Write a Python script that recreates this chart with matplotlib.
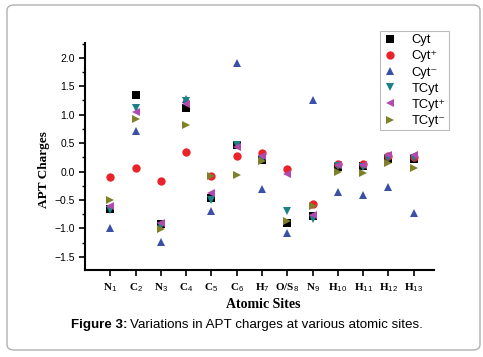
import matplotlib
matplotlib.use("Agg")
import matplotlib.pyplot as plt
from matplotlib.patches import FancyBboxPatch
from matplotlib.ticker import MultipleLocator

plt.rcParams['mathtext.fontset'] = 'custom'
plt.rcParams['mathtext.rm'] = 'Liberation Sans'
plt.rcParams['mathtext.it'] = 'Liberation Sans'
plt.rcParams['mathtext.bf'] = 'Liberation Serif:bold'

# atomic sites along the x axis
sites = ["N$_1$", "C$_2$", "N$_3$", "C$_4$", "C$_5$", "C$_6$", "H$_7$", "O/S$_8$",
         "N$_9$", "H$_{10}$", "H$_{11}$", "H$_{12}$", "H$_{13}$"]
pos = list(range(1, 14))

# APT charges
cyt = [-0.65, 1.34, -0.92, 1.12, -0.46, 0.46, 0.20, -0.90, -0.78, 0.08, 0.09, 0.22, 0.22]
cyt_p = [-0.09, 0.06, -0.16, 0.35, -0.08, 0.28, 0.32, 0.05, -0.57, 0.14, 0.14, 0.28, 0.25]
cyt_m = [-1.00, 0.72, -1.23, 1.28, -0.70, 1.90, -0.30, -1.08, 1.25, -0.36, -0.42, -0.27, -0.72]
tcyt = [-0.67, 1.11, -0.96, 1.24, -0.50, 0.46, 0.22, -0.70, -0.84, 0.09, 0.08, 0.23, 0.24]
tcyt_p = [-0.60, 1.05, -0.90, 1.19, -0.38, 0.43, 0.28, -0.04, -0.77, 0.12, 0.12, 0.29, 0.29]
tcyt_m = [-0.50, 0.93, -1.01, 0.81, -0.08, -0.06, 0.19, -0.87, -0.60, -0.01, -0.03, 0.15, 0.06]

series = [
    (cyt, "Cyt", "s", "black"),
    (cyt_p, "Cyt\u207a", "o", "#e8232a"),
    (cyt_m, "Cyt\u207b", "^", "#3a50a6"),
    (tcyt, "TCyt", "v", "#1c8087"),
    (tcyt_p, "TCyt\u207a", "<", "#b04aae"),
    (tcyt_m, "TCyt\u207b", ">", "#80802a"),
]

fig = plt.figure(figsize=(4.83, 3.57), dpi=100)
ax = fig.add_axes([85 / 483, 1 - 270 / 357, (434 - 85) / 483, (270 - 43) / 357])

for vals, name, mk, col in series:
    ax.plot(pos, vals, linestyle="none", marker=mk, color=col, markersize=6,
            markeredgewidth=0, label=name)

ax.set_xlim(0, 13.8)
ax.set_ylim(-1.73, 2.26)
ax.set_xticks(pos)
ax.set_xticklabels(sites, fontsize=8, family="Liberation Serif", fontweight="bold")
ax.yaxis.set_major_locator(MultipleLocator(0.5))
ax.yaxis.set_minor_locator(MultipleLocator(0.25))
ax.tick_params(axis="y", labelsize=7.5, direction="out", length=4, width=1.2)
ax.tick_params(axis="y", which="minor", length=2.5, width=1.0)
ax.tick_params(axis="x", direction="out", length=4, width=1.2, pad=4)
for lbl in ax.get_yticklabels():
    lbl.set_family("Liberation Sans")
ax.spines["top"].set_visible(False)
ax.spines["right"].set_visible(False)
ax.spines["left"].set_linewidth(1.5)
ax.spines["bottom"].set_linewidth(1.5)

fig.text(44 / 483, 1 - 170 / 357, "APT Charges", rotation=90, ha="center", va="center",
         fontsize=9.5, fontweight="bold", family="Liberation Serif")
fig.text(263 / 483, 1 - 304 / 357, "Atomic Sites", ha="center", va="center",
         fontsize=10, fontweight="bold", family="Liberation Serif")

# caption: bold lead-in followed by plain text
cap_size = 9.6
t1 = fig.text(71 / 483, 1 - 325 / 357, "Figure 3:", ha="left", va="center",
              fontsize=cap_size, fontweight="bold", family="Liberation Sans")
r = fig.canvas.get_renderer()
bb = t1.get_window_extent(renderer=r)
fig.text((bb.x1 + 3) / 483, 1 - 325 / 357,
         "Variations in APT charges at various atomic sites.",
         ha="left", va="center", fontsize=cap_size, family="Liberation Sans")

leg = fig.legend(loc="upper left", bbox_to_anchor=(380 / 483, 1 - 31 / 357),
                 borderaxespad=0, frameon=True, fancybox=False, handlelength=1.0,
                 handletextpad=1.2, labelspacing=0.32, borderpad=0.25,
                 prop={"family": ["Liberation Sans", "DejaVu Sans"], "size": 9.3})
leg.get_frame().set_edgecolor("#aaaaaa")
leg.get_frame().set_linewidth(0.8)

border = FancyBboxPatch((7 / 483, 7 / 357), 473 / 483, 345 / 357,
                        boxstyle="round,pad=0,rounding_size=0.015",
                        transform=fig.transFigure, facecolor="none",
                        edgecolor="#b0b0b0", linewidth=1.0)
fig.patches.append(border)

fig.savefig("out.png", dpi=100)
